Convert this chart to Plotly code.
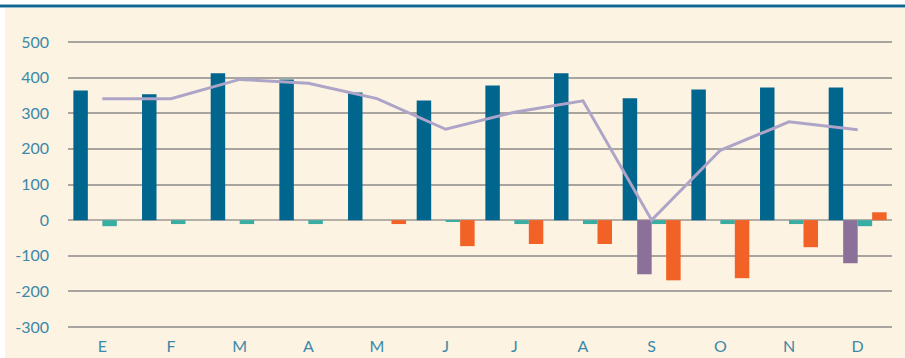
import plotly.graph_objects as go

# Monthly series (Spanish month initials)
months = ["E", "F", "M", "A", "M", "J", "J", "A", "S", "O", "N", "D"]
serie_azul = [364, 353, 412, 395, 358, 336, 378, 412, 342, 367, 372, 372]
serie_morada = [None, None, None, None, None, None, None, None, -152, None, None, -121]
serie_verde = [-17, -11, -11, -11, None, -5, -11, -11, -11, -11, -11, -17]
serie_naranja = [None, None, None, None, -11, -73, -67, -67, -169, -163, -76, 22]
linea = [341, 341, 395, 384, 341, 255, 303, 335, 0, 196, 276, 254]

y_ticks = [-300, -200, -100, 0, 100, 200, 300, 400, 500]
y_tick_labels = ["-300", "-200", "-100", "0", "100", "200", "300", "400", "500"]

W, H = 905, 358
L, R, T, B = 68, 13, 40, 29
PW, PH = W - L - R, H - T - B

def px_x(px):
    return (px - L) / PW

def px_y(py):
    return (H - B - py) / PH

x = list(range(len(months)))
font_color = "#3B89A8"

fig = go.Figure()
for vals, color in [
    (serie_azul, "#00668E"),
    (serie_morada, "#8B7099"),
    (serie_verde, "#3AADA3"),
    (serie_naranja, "#F26125"),
]:
    fig.add_trace(go.Bar(x=x, y=vals, marker=dict(color=color, line=dict(width=0)),
                         showlegend=False, hoverinfo="skip"))

fig.add_trace(go.Scatter(x=x, y=linea, mode="lines",
                         line=dict(color="#ADA4C8", width=3),
                         showlegend=False, hoverinfo="skip"))

shapes = [
    # white frame strips on top and left
    dict(type="rect", xref="paper", yref="paper", x0=px_x(0), x1=px_x(W),
         y0=px_y(7.5), y1=px_y(0), fillcolor="white", line=dict(width=0), layer="above"),
    dict(type="rect", xref="paper", yref="paper", x0=px_x(0), x1=px_x(5),
         y0=px_y(H), y1=px_y(0), fillcolor="white", line=dict(width=0), layer="above"),
    # header rule
    dict(type="rect", xref="paper", yref="paper", x0=px_x(0), x1=px_x(W),
         y0=px_y(8), y1=px_y(4), fillcolor="#BFD9E4", line=dict(width=0), layer="above"),
    dict(type="rect", xref="paper", yref="paper", x0=px_x(0), x1=px_x(W),
         y0=px_y(7.2), y1=px_y(4.8), fillcolor="#0F6690", line=dict(width=0), layer="above"),
]

fig.update_layout(
    width=W, height=H,
    margin=dict(l=L, r=R, t=T, b=B),
    paper_bgcolor="#FDF3E3",
    plot_bgcolor="#FDF3E3",
    barmode="group",
    bargap=0.156,
    bargroupgap=0,
    font=dict(family="Lato", size=16, color=font_color),
    shapes=shapes,
    xaxis=dict(
        range=[-0.5, 11.5], automargin=False,
        tickmode="array", tickvals=x, ticktext=months,
        showgrid=False, zeroline=False, showline=False,
        ticks="", ticklabelstandoff=6,
        tickfont=dict(family="Lato", size=16, color=font_color),
    ),
    yaxis=dict(
        range=[-305.6, 505.6], automargin=False,
        tickmode="array", tickvals=y_ticks, ticktext=y_tick_labels,
        showgrid=True, gridcolor="#A8A5A0", gridwidth=2,
        zeroline=True, zerolinecolor="#B3AEA8", zerolinewidth=2,
        showline=False, ticks="", ticklabelstandoff=18,
        tickfont=dict(family="Lato", size=16, color=font_color),
    ),
)

fig.write_html("out.html")
